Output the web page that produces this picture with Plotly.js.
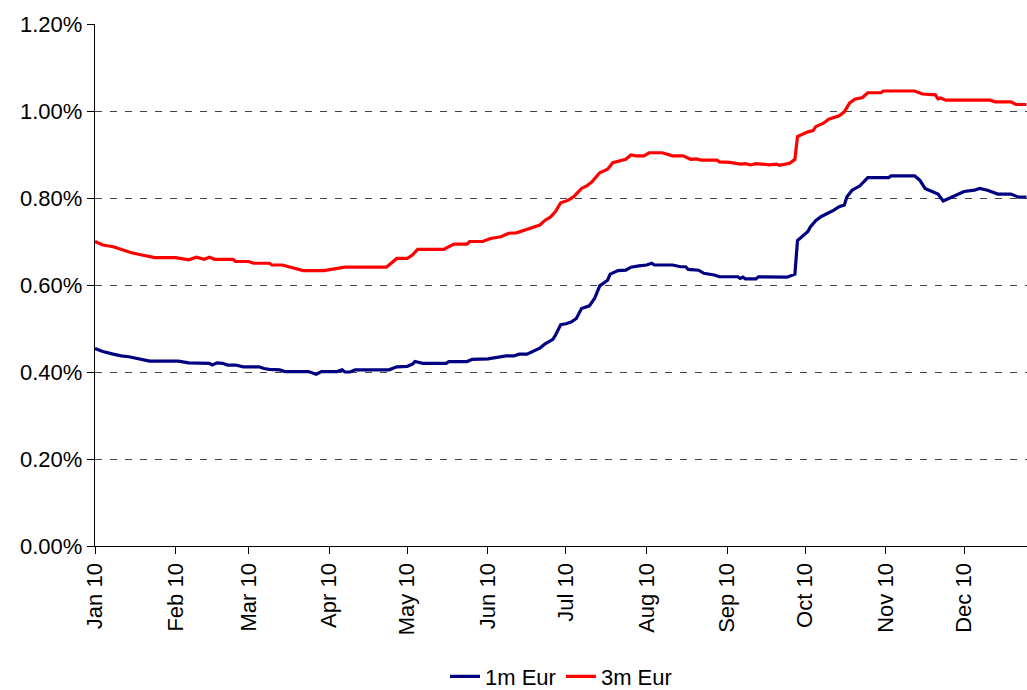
<!DOCTYPE html>
<html>
<head>
<meta charset="utf-8">
<script src="https://cdn.plot.ly/plotly-3.0.1.min.js"></script>
<style>html,body{margin:0;padding:0;background:#fff;}#chart{width:1027px;height:690px;}</style>
</head>
<body>
<div id="chart"></div>
<script>
// 3m Euribor (percent)
const dates3m = ["2010-01-01","2010-01-04","2010-01-08","2010-01-12","2010-01-15","2010-01-19","2010-01-24","2010-02-01","2010-02-06","2010-02-09","2010-02-12","2010-02-14","2010-02-16","2010-02-23","2010-02-24","2010-03-01","2010-03-03","2010-03-09","2010-03-10","2010-03-14","2010-03-17","2010-03-22","2010-03-30","2010-04-04","2010-04-07","2010-04-23","2010-04-25","2010-04-27","2010-05-01","2010-05-03","2010-05-05","2010-05-15","2010-05-19","2010-05-24","2010-05-25","2010-05-30","2010-06-02","2010-06-06","2010-06-09","2010-06-12","2010-06-15","2010-06-21","2010-06-23","2010-06-25","2010-06-27","2010-06-29","2010-07-02","2010-07-04","2010-07-07","2010-07-09","2010-07-11","2010-07-14","2010-07-17","2010-07-19","2010-07-24","2010-07-26","2010-07-28","2010-07-31","2010-08-02","2010-08-07","2010-08-11","2010-08-15","2010-08-18","2010-08-20","2010-08-22","2010-08-28","2010-08-29","2010-09-02","2010-09-06","2010-09-08","2010-09-10","2010-09-12","2010-09-16","2010-09-17","2010-09-20","2010-09-21","2010-09-25","2010-09-27","2010-09-28","2010-09-30","2010-10-02","2010-10-04","2010-10-05","2010-10-08","2010-10-10","2010-10-14","2010-10-16","2010-10-18","2010-10-20","2010-10-23","2010-10-25","2010-10-30","2010-10-31","2010-11-12","2010-11-15","2010-11-20","2010-11-21","2010-11-22","2010-11-24","2010-12-11","2010-12-13","2010-12-19","2010-12-21","2010-12-25"];
const values3m = [0.700,0.692,0.688,0.680,0.674,0.669,0.663,0.663,0.658,0.664,0.659,0.664,0.659,0.659,0.654,0.654,0.650,0.650,0.646,0.646,0.641,0.633,0.633,0.637,0.641,0.641,0.652,0.661,0.661,0.669,0.682,0.682,0.694,0.694,0.700,0.700,0.707,0.711,0.719,0.720,0.726,0.738,0.749,0.756,0.769,0.789,0.795,0.803,0.822,0.828,0.837,0.858,0.866,0.881,0.889,0.899,0.897,0.897,0.904,0.904,0.897,0.897,0.889,0.890,0.887,0.887,0.883,0.882,0.878,0.879,0.876,0.879,0.877,0.876,0.878,0.875,0.880,0.889,0.941,0.947,0.952,0.955,0.964,0.972,0.981,0.989,0.998,1.018,1.027,1.031,1.042,1.042,1.046,1.046,1.039,1.037,1.028,1.030,1.025,1.025,1.021,1.021,1.015,1.015];

// 1m Euribor (percent)
const dates1m = ["2010-01-01","2010-01-04","2010-01-08","2010-01-11","2010-01-14","2010-01-18","2010-01-22","2010-02-02","2010-02-06","2010-02-14","2010-02-15","2010-02-17","2010-02-19","2010-02-21","2010-02-24","2010-02-27","2010-03-05","2010-03-07","2010-03-09","2010-03-13","2010-03-15","2010-03-24","2010-03-27","2010-03-29","2010-04-04","2010-04-06","2010-04-07","2010-04-09","2010-04-11","2010-04-24","2010-04-27","2010-05-01","2010-05-03","2010-05-04","2010-05-07","2010-05-16","2010-05-17","2010-05-24","2010-05-26","2010-06-01","2010-06-04","2010-06-07","2010-06-08","2010-06-11","2010-06-13","2010-06-16","2010-06-18","2010-06-21","2010-06-23","2010-06-26","2010-06-27","2010-06-29","2010-07-01","2010-07-03","2010-07-05","2010-07-07","2010-07-10","2010-07-12","2010-07-14","2010-07-17","2010-07-18","2010-07-21","2010-07-24","2010-07-26","2010-07-29","2010-08-01","2010-08-03","2010-08-04","2010-08-11","2010-08-14","2010-08-16","2010-08-17","2010-08-21","2010-08-23","2010-08-27","2010-08-29","2010-09-05","2010-09-06","2010-09-07","2010-09-08","2010-09-12","2010-09-13","2010-09-24","2010-09-25","2010-09-27","2010-09-28","2010-09-30","2010-10-02","2010-10-03","2010-10-05","2010-10-07","2010-10-10","2010-10-12","2010-10-14","2010-10-16","2010-10-17","2010-10-19","2010-10-22","2010-10-25","2010-11-02","2010-11-03","2010-11-12","2010-11-14","2010-11-16","2010-11-21","2010-11-23","2010-11-28","2010-12-01","2010-12-05","2010-12-07","2010-12-10","2010-12-14","2010-12-19","2010-12-22","2010-12-25"];
const values1m = [0.454,0.447,0.441,0.437,0.435,0.430,0.425,0.425,0.421,0.420,0.416,0.421,0.420,0.416,0.416,0.412,0.412,0.408,0.406,0.405,0.401,0.401,0.395,0.401,0.401,0.405,0.400,0.400,0.405,0.405,0.412,0.413,0.418,0.424,0.420,0.420,0.424,0.424,0.429,0.430,0.433,0.435,0.437,0.437,0.441,0.441,0.447,0.455,0.465,0.475,0.485,0.509,0.511,0.515,0.523,0.546,0.552,0.569,0.598,0.611,0.625,0.633,0.634,0.641,0.644,0.646,0.650,0.646,0.646,0.642,0.642,0.636,0.634,0.627,0.623,0.619,0.619,0.615,0.618,0.614,0.614,0.619,0.618,0.621,0.625,0.702,0.713,0.723,0.734,0.748,0.757,0.765,0.772,0.780,0.784,0.803,0.818,0.828,0.847,0.847,0.851,0.851,0.841,0.822,0.809,0.793,0.808,0.815,0.818,0.822,0.818,0.809,0.809,0.802,0.802];

const monthTicks = ["2010-01-01","2010-02-01","2010-03-01","2010-04-01","2010-05-01","2010-06-01","2010-07-01","2010-08-01","2010-09-01","2010-10-01","2010-11-01","2010-12-01"];
const monthLabels = ["Jan 10","Feb 10","Mar 10","Apr 10","May 10","Jun 10","Jul 10","Aug 10","Sep 10","Oct 10","Nov 10","Dec 10"];
const yTicks = [0, 0.2, 0.4, 0.6, 0.8, 1.0, 1.2];
const yLabels = ["0.00%","0.20%","0.40%","0.60%","0.80%","1.00%","1.20%"];

const traces = [
  {x: dates1m, y: values1m, name: "1m Eur", type: "scatter", mode: "lines",
   line: {color: "#000080", width: 3.2}},
  {x: dates3m, y: values3m, name: "3m Eur", type: "scatter", mode: "lines",
   line: {color: "#FF0000", width: 3.2}}
];

const font = {family: "Liberation Sans, Arial, sans-serif", size: 22, color: "#000"};

const layout = {
  width: 1027, height: 690,
  margin: {l: 95, r: 0, t: 24, b: 144, pad: 0, autoexpand: false},
  paper_bgcolor: "#fff", plot_bgcolor: "#fff",
  font: font,
  showlegend: true,
  legend: {orientation: "h", x: 0.5, xanchor: "center", y: -0.25, yanchor: "middle",
           font: font, itemwidth: 30, tracegroupgap: 0},
  xaxis: {
    type: "date", automargin: false,
    range: ["2010-01-01", "2010-12-25 05:00"],
    tickmode: "array", tickvals: monthTicks, ticktext: monthLabels,
    tickangle: -90, ticks: "outside", ticklen: 7, tickcolor: "#000", tickwidth: 1,
    showline: true, linecolor: "#000", linewidth: 1.3,
    showgrid: false, zeroline: false,
    tickfont: font, fixedrange: true
  },
  yaxis: {
    range: [0, 1.2], automargin: false,
    tickmode: "array", tickvals: yTicks, ticktext: yLabels,
    ticks: "outside", ticklen: 7, tickcolor: "#000", tickwidth: 1,
    showline: true, linecolor: "#000", linewidth: 1.3,
    showgrid: true, gridcolor: "#444", gridwidth: 1, griddash: "7px,8px",
    zeroline: false, tickfont: font, fixedrange: true
  }
};

Plotly.newPlot("chart", traces, layout, {displayModeBar: false, staticPlot: true});
</script>
</body>
</html>
